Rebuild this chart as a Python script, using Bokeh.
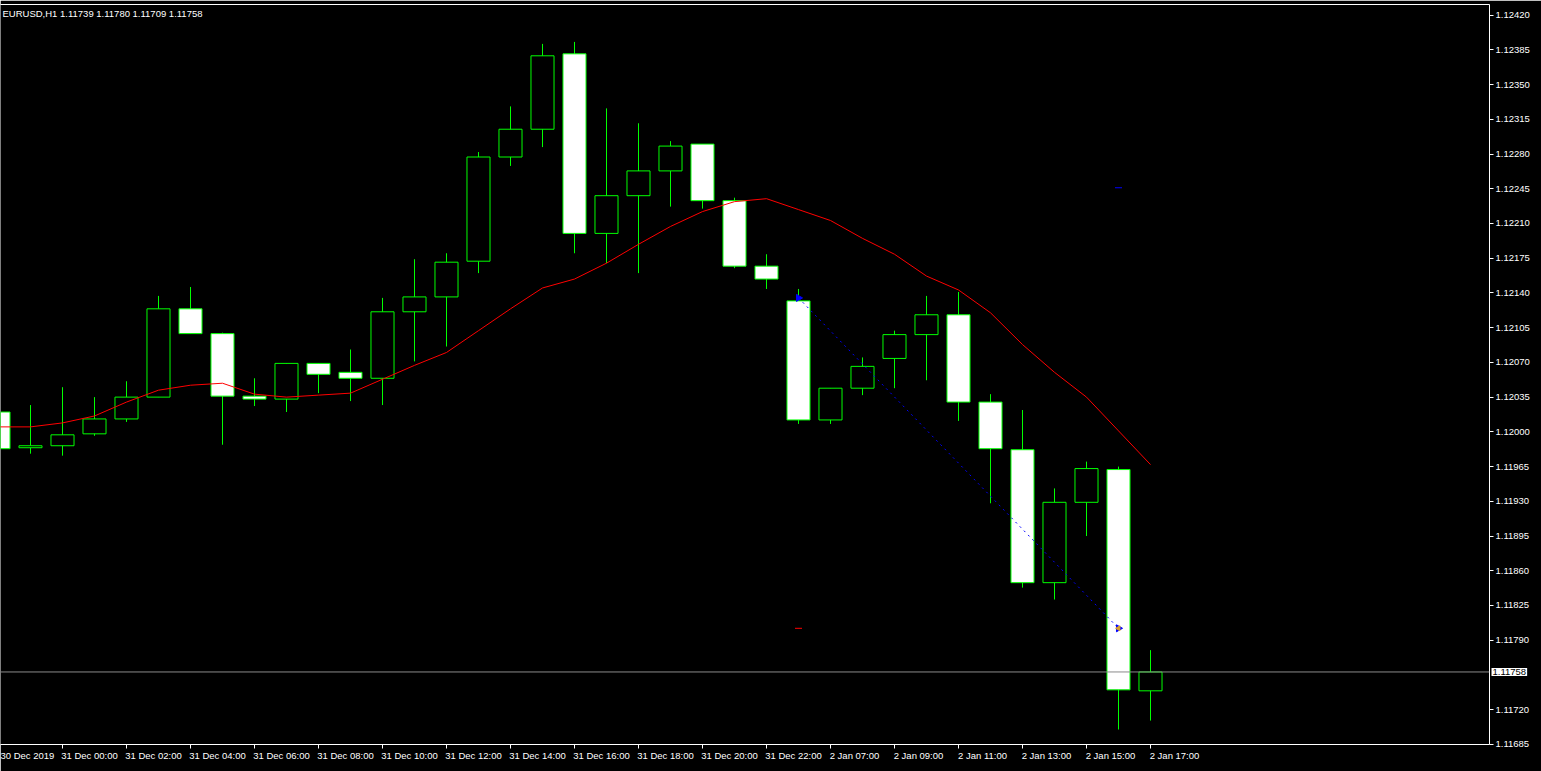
import math
from bokeh.plotting import figure
from bokeh.models import Range1d, LinearAxis, FixedTicker, PrintfTickFormatter, Span, Label
from bokeh.embed import file_html
from bokeh.resources import INLINE

symbol = "EURUSD,H1"
times = ["30 Dec 22:00", "30 Dec 23:00",
         "31 Dec 00:00", "31 Dec 01:00", "31 Dec 02:00", "31 Dec 03:00", "31 Dec 04:00", "31 Dec 05:00",
         "31 Dec 06:00", "31 Dec 07:00", "31 Dec 08:00", "31 Dec 09:00", "31 Dec 10:00", "31 Dec 11:00",
         "31 Dec 12:00", "31 Dec 13:00", "31 Dec 14:00", "31 Dec 15:00", "31 Dec 16:00", "31 Dec 17:00",
         "31 Dec 18:00", "31 Dec 19:00", "31 Dec 20:00", "31 Dec 21:00", "31 Dec 22:00", "31 Dec 23:00",
         "2 Jan 07:00", "2 Jan 08:00", "2 Jan 09:00", "2 Jan 10:00", "2 Jan 11:00", "2 Jan 12:00",
         "2 Jan 13:00", "2 Jan 14:00", "2 Jan 15:00", "2 Jan 16:00", "2 Jan 17:00"]
opens = [1.12020, 1.11984, 1.11986, 1.11998, 1.12013, 1.12035, 1.12124, 1.12099, 1.12036, 1.12033,
         1.12069, 1.12060, 1.12054, 1.12121, 1.12136, 1.12172, 1.12277, 1.12305, 1.12381, 1.12200,
         1.12238, 1.12263, 1.12290, 1.12233, 1.12167, 1.12132, 1.12012, 1.12044, 1.12074, 1.12098,
         1.12118, 1.12030, 1.11982, 1.11848, 1.11929, 1.11962, 1.11739]
highs = [1.12024, 1.12027, 1.12045, 1.12035, 1.12051, 1.12137, 1.12146, 1.12100, 1.12054, 1.12069,
         1.12069, 1.12083, 1.12135, 1.12174, 1.12180, 1.12282, 1.12328, 1.12391, 1.12393, 1.12326,
         1.12311, 1.12293, 1.12290, 1.12236, 1.12179, 1.12144, 1.12044, 1.12075, 1.12102, 1.12137,
         1.12141, 1.12038, 1.12022, 1.11943, 1.11970, 1.11965, 1.11780]
lows = [1.11980, 1.11978, 1.11976, 1.11996, 1.12010, 1.12035, 1.12099, 1.11987, 1.12026, 1.12020,
        1.12039, 1.12031, 1.12027, 1.12071, 1.12086, 1.12160, 1.12268, 1.12287, 1.12180, 1.12170,
        1.12160, 1.12227, 1.12225, 1.12165, 1.12144, 1.12008, 1.12008, 1.12037, 1.12044, 1.12052,
        1.12011, 1.11928, 1.11843, 1.11831, 1.11895, 1.11700, 1.11709]
closes = [1.11983, 1.11986, 1.11997, 1.12013, 1.12035, 1.12124, 1.12099, 1.12036, 1.12033, 1.12069,
          1.12058, 1.12054, 1.12121, 1.12136, 1.12171, 1.12277, 1.12305, 1.12379, 1.12200, 1.12238,
          1.12263, 1.12288, 1.12233, 1.12167, 1.12154, 1.12012, 1.12044, 1.12066, 1.12098, 1.12118,
          1.12030, 1.11983, 1.11848, 1.11929, 1.11963, 1.11740, 1.11758]
ma_values = [1.12005, 1.12005, 1.12009, 1.12016, 1.12030, 1.12042, 1.12047, 1.12049, 1.12038, 1.12035,
             1.12037, 1.12039, 1.12053, 1.12067, 1.12080, 1.12102, 1.12124, 1.12145, 1.12154, 1.12170,
             1.12189, 1.12207, 1.12222, 1.12232, 1.12235, 1.12224, 1.12213, 1.12195, 1.12179, 1.12157,
             1.12143, 1.12120, 1.12088, 1.12060, 1.12035, 1.12001, 1.11967]
# price scale labels (1.11755 is hidden under the bid price box in the original)
price_ticks = [1.11685, 1.11720, 1.11790, 1.11825, 1.11860, 1.11895, 1.11930, 1.11965,
               1.12000, 1.12035, 1.12070, 1.12105, 1.12140, 1.12175, 1.12210, 1.12245, 1.12280,
               1.12315, 1.12350, 1.12385, 1.12420]
time_tick_labels = ["30 Dec 2019", "31 Dec 00:00", "31 Dec 02:00", "31 Dec 04:00", "31 Dec 06:00",
                    "31 Dec 08:00", "31 Dec 10:00", "31 Dec 12:00", "31 Dec 14:00", "31 Dec 16:00",
                    "31 Dec 18:00", "31 Dec 20:00", "31 Dec 22:00", "2 Jan 07:00", "2 Jan 09:00",
                    "2 Jan 11:00", "2 Jan 13:00", "2 Jan 15:00", "2 Jan 17:00"]
# trade history (open bar index/price, close bar index/price, stop loss, take profit)
trade_open = (25, 1.12135)
trade_close = (35, 1.11802)
trade_sl = 1.11802
trade_tp = 1.12246

FONT = "Liberation Sans"
FS = "9.5px"
GREEN = "#00ff00"

idx = list(range(len(times)))
body_top = [max(o, c) for o, c in zip(opens, closes)]
body_bot = [min(o, c) for o, c in zip(opens, closes)]
body_fill = ["white" if c < o else "black" for o, c in zip(opens, closes)]

p = figure(width=1541, height=771,
           x_range=Range1d(0.0625, 46.59375), y_range=Range1d(1.116849, 1.124307),
           output_backend="svg", toolbar_location=None,
           x_axis_location=None, y_axis_location=None,
           background_fill_color="black", border_fill_color="black",
           min_border_left=0, min_border_right=52, min_border_top=4, min_border_bottom=21)
p.outline_line_color = None
p.xgrid.visible = False
p.ygrid.visible = False

# price axis on the right
yax = LinearAxis(ticker=FixedTicker(ticks=price_ticks), formatter=PrintfTickFormatter(format="%.5f"))
yax.axis_line_color = "white"
yax.major_tick_line_color = "white"
yax.major_tick_out = 4
yax.major_tick_in = 0
yax.minor_tick_line_color = None
yax.major_label_text_color = "white"
yax.major_label_text_font = FONT
yax.major_label_text_font_size = FS
yax.major_label_standoff = 2
p.add_layout(yax, "right")

# time axis: tick marks at bars, labels starting at the tick (MT4 style)
tick_bars = list(range(0, len(times), 2))
offsets = [0.75 if lab.startswith(("2 ", "30")) else 0.84375 for lab in time_tick_labels]
label_pos = [b + o for b, o in zip(tick_bars, offsets)]
xax = LinearAxis(ticker=FixedTicker(ticks=label_pos, minor_ticks=tick_bars))
xax.major_label_overrides = {pos: lab for pos, lab in zip(label_pos, time_tick_labels)}
xax.axis_line_color = "white"
xax.major_tick_line_color = None
xax.major_tick_out = 0
xax.major_tick_in = 0
xax.minor_tick_line_color = "white"
xax.minor_tick_out = 4
xax.minor_tick_in = 0
xax.major_label_text_color = "white"
xax.major_label_text_font = FONT
xax.major_label_text_font_size = FS
xax.major_label_text_line_height = 1.0
xax.major_label_standoff = 1
p.add_layout(xax, "below")

# bid price box on the price scale (placed in a side panel so it is not clipped to the frame)
bid_label = Label(x=1491, x_units="screen", y=closes[-1], y_units="data",
                  text=f"{closes[-1]:.5f}", text_color="black", text_font=FONT, text_font_size=FS,
                  text_line_height=1.0, text_baseline="middle", background_fill_color="white",
                  padding=1)
p.add_layout(bid_label, "below")

top = LinearAxis(ticker=FixedTicker(ticks=[]))
top.axis_line_color = "white"
top.major_tick_out = 0
top.major_tick_in = 0
top.minor_tick_out = 0
top.minor_tick_in = 0
top.major_label_text_font_size = "0px"
top.major_label_standoff = 0
p.add_layout(top, "above")

# candles
p.segment(x0=idx, y0=lows, x1=idx, y1=highs, line_color=GREEN, line_width=1)
p.vbar(x=idx, width=0.72, top=body_top, bottom=body_bot, fill_color=body_fill,
       line_color=GREEN, line_width=1)

# moving average
p.line(idx, ma_values, line_color="red", line_width=1)

# trade history
p.line([trade_open[0], trade_close[0]], [trade_open[1], trade_close[1]],
       line_color="blue", line_width=1, line_dash="2 4")
p.scatter([trade_open[0], trade_close[0]], [trade_open[1], trade_close[1]], marker="triangle",
          angle=-math.pi / 2, size=7, fill_color="blue", line_color="blue")
p.scatter([trade_close[0]], [trade_close[1]], marker="triangle", angle=math.pi / 2, size=5,
          fill_color="#d9a030", line_color="#d9a030")
p.scatter([trade_open[0]], [trade_sl], marker="dash", size=7, line_color="red", line_width=1)
p.scatter([trade_close[0]], [trade_tp], marker="dash", size=7, line_color="blue", line_width=1)

# bid line
p.add_layout(Span(location=closes[-1], dimension="width", line_color="#8a8a8a", line_width=1))

title = f"{symbol}  {opens[-1]:.5f} {highs[-1]:.5f} {lows[-1]:.5f} {closes[-1]:.5f}"
p.add_layout(Label(x=2, x_units="screen", y=1.124307, y_units="data", y_offset=-3,
                   text=title, text_color="white", text_font=FONT, text_font_size=FS,
                   text_baseline="top"))

open("out.html", "w").write(file_html(p, INLINE))
